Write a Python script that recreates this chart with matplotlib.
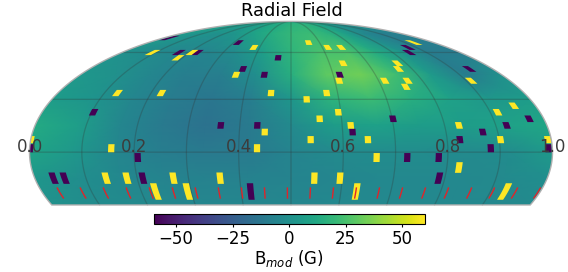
import numpy as np
import matplotlib
matplotlib.use("Agg")
import matplotlib.pyplot as plt
from matplotlib.patches import Polygon
from matplotlib.cm import ScalarMappable
from matplotlib.colors import Normalize

# background radial field (G)
field_lat = [90, 85, 75, 60, 45, 30, 15, 0, -15, -30]
field_lon = [-180, -150, -120, -90, -60, -30, 0, 30, 60, 90, 120, 150, 180]
field = [
    [14, 14, 14, 14, 14, 14, 14, 14, 14, 14, 14, 14, 14],
    [8, 7, 7, 9, 12, 14, 17, 18, 16, 11, 6, 3, 3],
    [5, 2, 0, 3, 9, 15, 20, 22, 17, 7, -5, -9, -8],
    [0, -3, -5, -6, -2, 7, 18, 25, 26, 14, 2, -10, -10],
    [4, 0, -5, -9, -9, -1, 15, 30, 34, 23, 5, -10, 0],
    [6, 2, -5, -10, -13, -9, 3, 17, 22, 15, 8, 4, 6],
    [13, 7, -5, -11, -15, -11, -3, 6, 8, 6, 6, 8, 11],
    [10, 4, -5, -9, -11, -11, -6, -3, -2, -2, -3, -2, 5],
    [3, -1, -4, -6, -7, -7, -6, -5, -4, -4, -4, -3, -1],
    [0, -2, -3, -4, -5, -5, -5, -4, -4, -4, -4, -4, -3],
]

# strong negative patches (lon, lat in degrees)
neg_lon = [-171.7, -119.3, -99.5, 125.6, -66.4, -12.8, -42.9, 159, -22.8, 41.6, -142.7,
           -49.4, -23.7, 151.6, 134.4, 72.6, 169.5, 42.9, 133.6, 116.8, 177.3, -179.8,
           137.6, -105.6, 80.1, 101.8, -166.9, -159.1, -104.1, 103.9, -29.1]
neg_lat = [71.25, 60, 60, 60, 67.5, 56.25, 48.75, 48.75, 45, 45, 22.5,
           15, 15, 15, 63.75, 18.75, 18.75, 11.25, 11.25, 7, 2.2, 2.2,
           2.2, -3, -3, -3, -14.6, -14.6, -14.6, -14.6, -22.2]
# strong positive patches
pos_lon = [-147.2, -105.4, -112.4, -42.6, 42.1, 57.6, -47, -133.9, -100, -15.4, 27.5,
           -18.3, 22.1, 154.6, 48.8, 99.8, 95.9, 39.6, 77, 95.8, 148, 91.2, 11.8, 164,
           149.3, 34.2, 20.4, 42, 118.1, -179.9, 13.6, 53.2, 144.9, 177.6, -123.8, -23.4,
           59, 116.4, -129.9, -115.3, -82.6, -49.8, 16.4, 34.4, -97.7, -74.6, 47.1, 154.5]
pos_lat = [60, 60, 56.25, 63.75, 63.75, 63.75, 45, 33.75, 33.75, 33.75, 33.75,
           11.25, 67.5, 67.5, 52.5, 52.5, 48.75, 41.25, 41.25, 41.25, 41.25, 37.5, 30, 26.25,
           22.5, 22.5, 18.75, 15, 15, 7, 7, 7, 7, 7, 2.2, 2.2,
           -3, -8.6, -14.6, -14.6, -14.6, -14.6, -14.6, -14.6, -22.2, -22.2, -22.2, -22.2]
row_height = {7: 4.0, 2.2: 4.5, -3: 5.0, -8.6: 6.0, -14.6: 6.4, -22.2: 9.5}

# red ticks along the meridians
tick_lon = [-167.3, -150.8, -134.3, -117.9, -101.4, -84.9, -68.5, -52.0, -35.5, -19.0, -2.6,
            13.9, 30.4, 46.8, 63.3, 79.8, 96.2, 112.7, 129.2, 145.6, 162.1, 178.5]
tick_lat = [-20.2, -25.9]

grid_lon = [-144, -108, -72, -36, 0, 36, 72, 108, 144]
grid_lat = [0, 30, 60]
label_lon = [-180, -108, -36, 36, 108, 180]
label_txt = ["0.0", "0.2", "0.4", "0.6", "0.8", "1.0"]
cbar_ticks = [-50, -25, 0, 25, 50]

W, H = 568, 272
fig = plt.figure(figsize=(W / 100, H / 100), dpi=100)
ax = fig.add_axes([29.5 / W, (H - 282.9) / H, 523 / W, 261.5 / H], projection="mollweide")
ax.set_axis_off()
ax.patch.set_visible(False)

norm = Normalize(-60, 60)
sm = ScalarMappable(norm=norm, cmap="viridis")

# outline of the drawn region
edge_lat = np.radians(np.linspace(-30, 90, 300))
out_xy = np.r_[np.c_[np.full(300, -np.pi), edge_lat],
               np.c_[np.full(300, np.pi), edge_lat[::-1]]]
outline = Polygon(out_xy, closed=True, facecolor="none", edgecolor="#b0b0b0", lw=1.0,
                  transform=ax.transData, zorder=6, clip_on=False)
ax.add_patch(outline)

mesh_lon = np.radians(np.r_[-240, field_lon, 240])
mesh_lat = np.radians(field_lat)
mesh_val = np.pad(np.array(field, float), ((0, 0), (1, 1)), mode="edge")
mesh = ax.pcolormesh(mesh_lon, mesh_lat, mesh_val, cmap="viridis", norm=norm,
                     shading="gouraud", zorder=1)
mesh.set_clip_path(outline)

for lons, lats, val in ((neg_lon, neg_lat, -60), (pos_lon, pos_lat, 60)):
    for lo, la in zip(lons, lats):
        dl = row_height.get(la, 3.75)
        dlon = 4.3 / np.cos(np.radians(la * 0.8))
        xs = np.radians([lo - dlon / 2, lo + dlon / 2, lo + dlon / 2, lo - dlon / 2])
        ys = np.radians([la - dl / 2, la - dl / 2, la + dl / 2, la + dl / 2])
        p = Polygon(np.c_[xs, ys], closed=True, facecolor=sm.to_rgba(val), edgecolor="none",
                    transform=ax.transData, zorder=3)
        ax.add_patch(p)
        p.set_clip_path(outline)

lat_line = np.radians(np.linspace(-30, 90, 200))
for lo in grid_lon:
    ax.plot(np.full(200, np.radians(lo)), lat_line, color="#333333", alpha=0.28, lw=0.9, zorder=2)
lon_line = np.radians(np.linspace(-180, 180, 200))
for la in grid_lat:
    ax.plot(lon_line, np.full(200, np.radians(la)), color="#333333", alpha=0.28, lw=0.9, zorder=2)

for lo in tick_lon:
    ax.plot(np.radians([lo, lo]), np.radians(tick_lat), color="#e0242a", lw=1.0, zorder=4)

for lo, txt in zip(label_lon, label_txt):
    ax.text(np.radians(lo), 0, txt, ha="center", va="baseline", fontsize=12,
            color="#3c3c3c", zorder=7, clip_on=False)

fig.text(291.5 / W, 1 - 15.5 / H, "Radial Field", ha="center", va="baseline", fontsize=12.8)

cax = fig.add_axes([153.5 / W, 1 - 224.3 / H, 271.2 / W, 10 / H])
cb = fig.colorbar(sm, cax=cax, orientation="horizontal", ticks=cbar_ticks)
cb.ax.tick_params(labelsize=12, length=2.5, pad=1.5)
cb.set_label("B$_{mod}$ (G)", fontsize=12, labelpad=0)

fig.savefig("out.png", dpi=100)
